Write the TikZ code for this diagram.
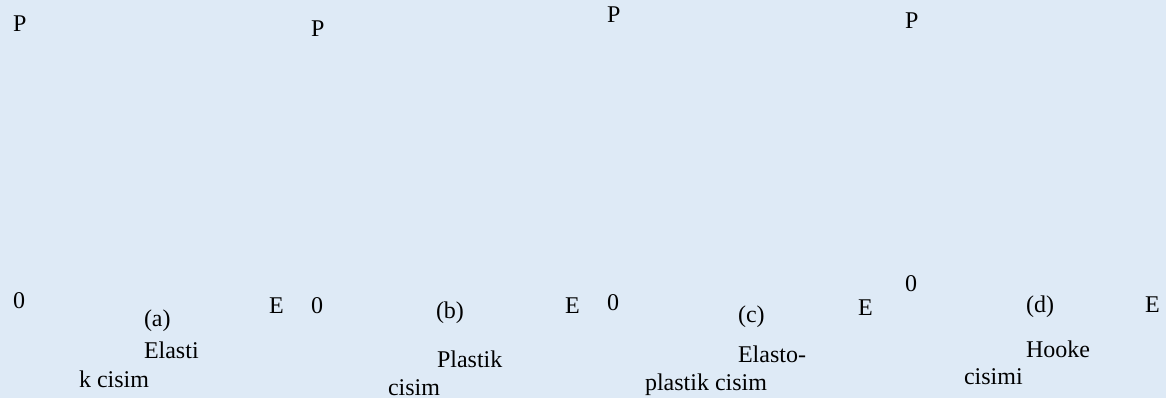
\documentclass[tikz,border=0pt]{standalone}
\usepackage{fontspec}
\setmainfont{Liberation Serif}
\usepackage{tikz}
\usetikzlibrary{calc}
\definecolor{panelblue}{HTML}{DEEAF6}

\begin{document}
\begin{tikzpicture}[x=1pt,y=-1pt]
             \tikzstyle{lbl}=[anchor=base west,inner sep=0pt,outer sep=0pt,font=\fontsize{24}{28}\selectfont]
             \fill [panelblue] (0,0) rectangle (1166,398);
             \useasboundingbox (0,0) rectangle (1166,398);
             % (a) elastic body
             \node [lbl] (Pa) at (13,32) {P};
             \node [lbl] (Oa) at (13,308) {0};
             \node [lbl] (Ea) at (269,313) {E};
             \node [lbl] (capa) at (144,326) {(a)};
             \node [lbl] (texta1) at (144,358) {Elasti};
             \node [lbl] (texta2) at (79,387) {k cisim};
             % (b) plastic body
             \node [lbl] (Pb) at (311,37) {P};
             \node [lbl] (Ob) at (311,313) {0};
             \node [lbl] (Eb) at (565,313) {E};
             \node [lbl] (capb) at (436,318) {(b)};
             \node [lbl] (textb1) at (437,367) {Plastik};
             \node [lbl] (textb2) at (388,395) {cisim};
             % (c) elasto-plastic body
             \node [lbl] (Pc) at (607,23) {P};
             \node [lbl] (Oc) at (607,310) {0};
             \node [lbl] (Ec) at (858,315) {E};
             \node [lbl] (capc) at (738,322) {(c)};
             \node [lbl] (textc1) at (738,362) {Elasto-};
             \node [lbl] (textc2) at (645,390) {plastik cisim};
             % (d) Hooke body
             \node [lbl] (Pd) at (905,29) {P};
             \node [lbl] (Od) at (905,291) {0};
             \node [lbl] (Ed) at (1145,312) {E};
             \node [lbl] (capd) at (1026,312) {(d)};
             \node [lbl] (textd1) at (1026,357) {Hooke};
             \node [lbl] (textd2) at (964,384) {cisimi};
\end{tikzpicture}
\end{document}
